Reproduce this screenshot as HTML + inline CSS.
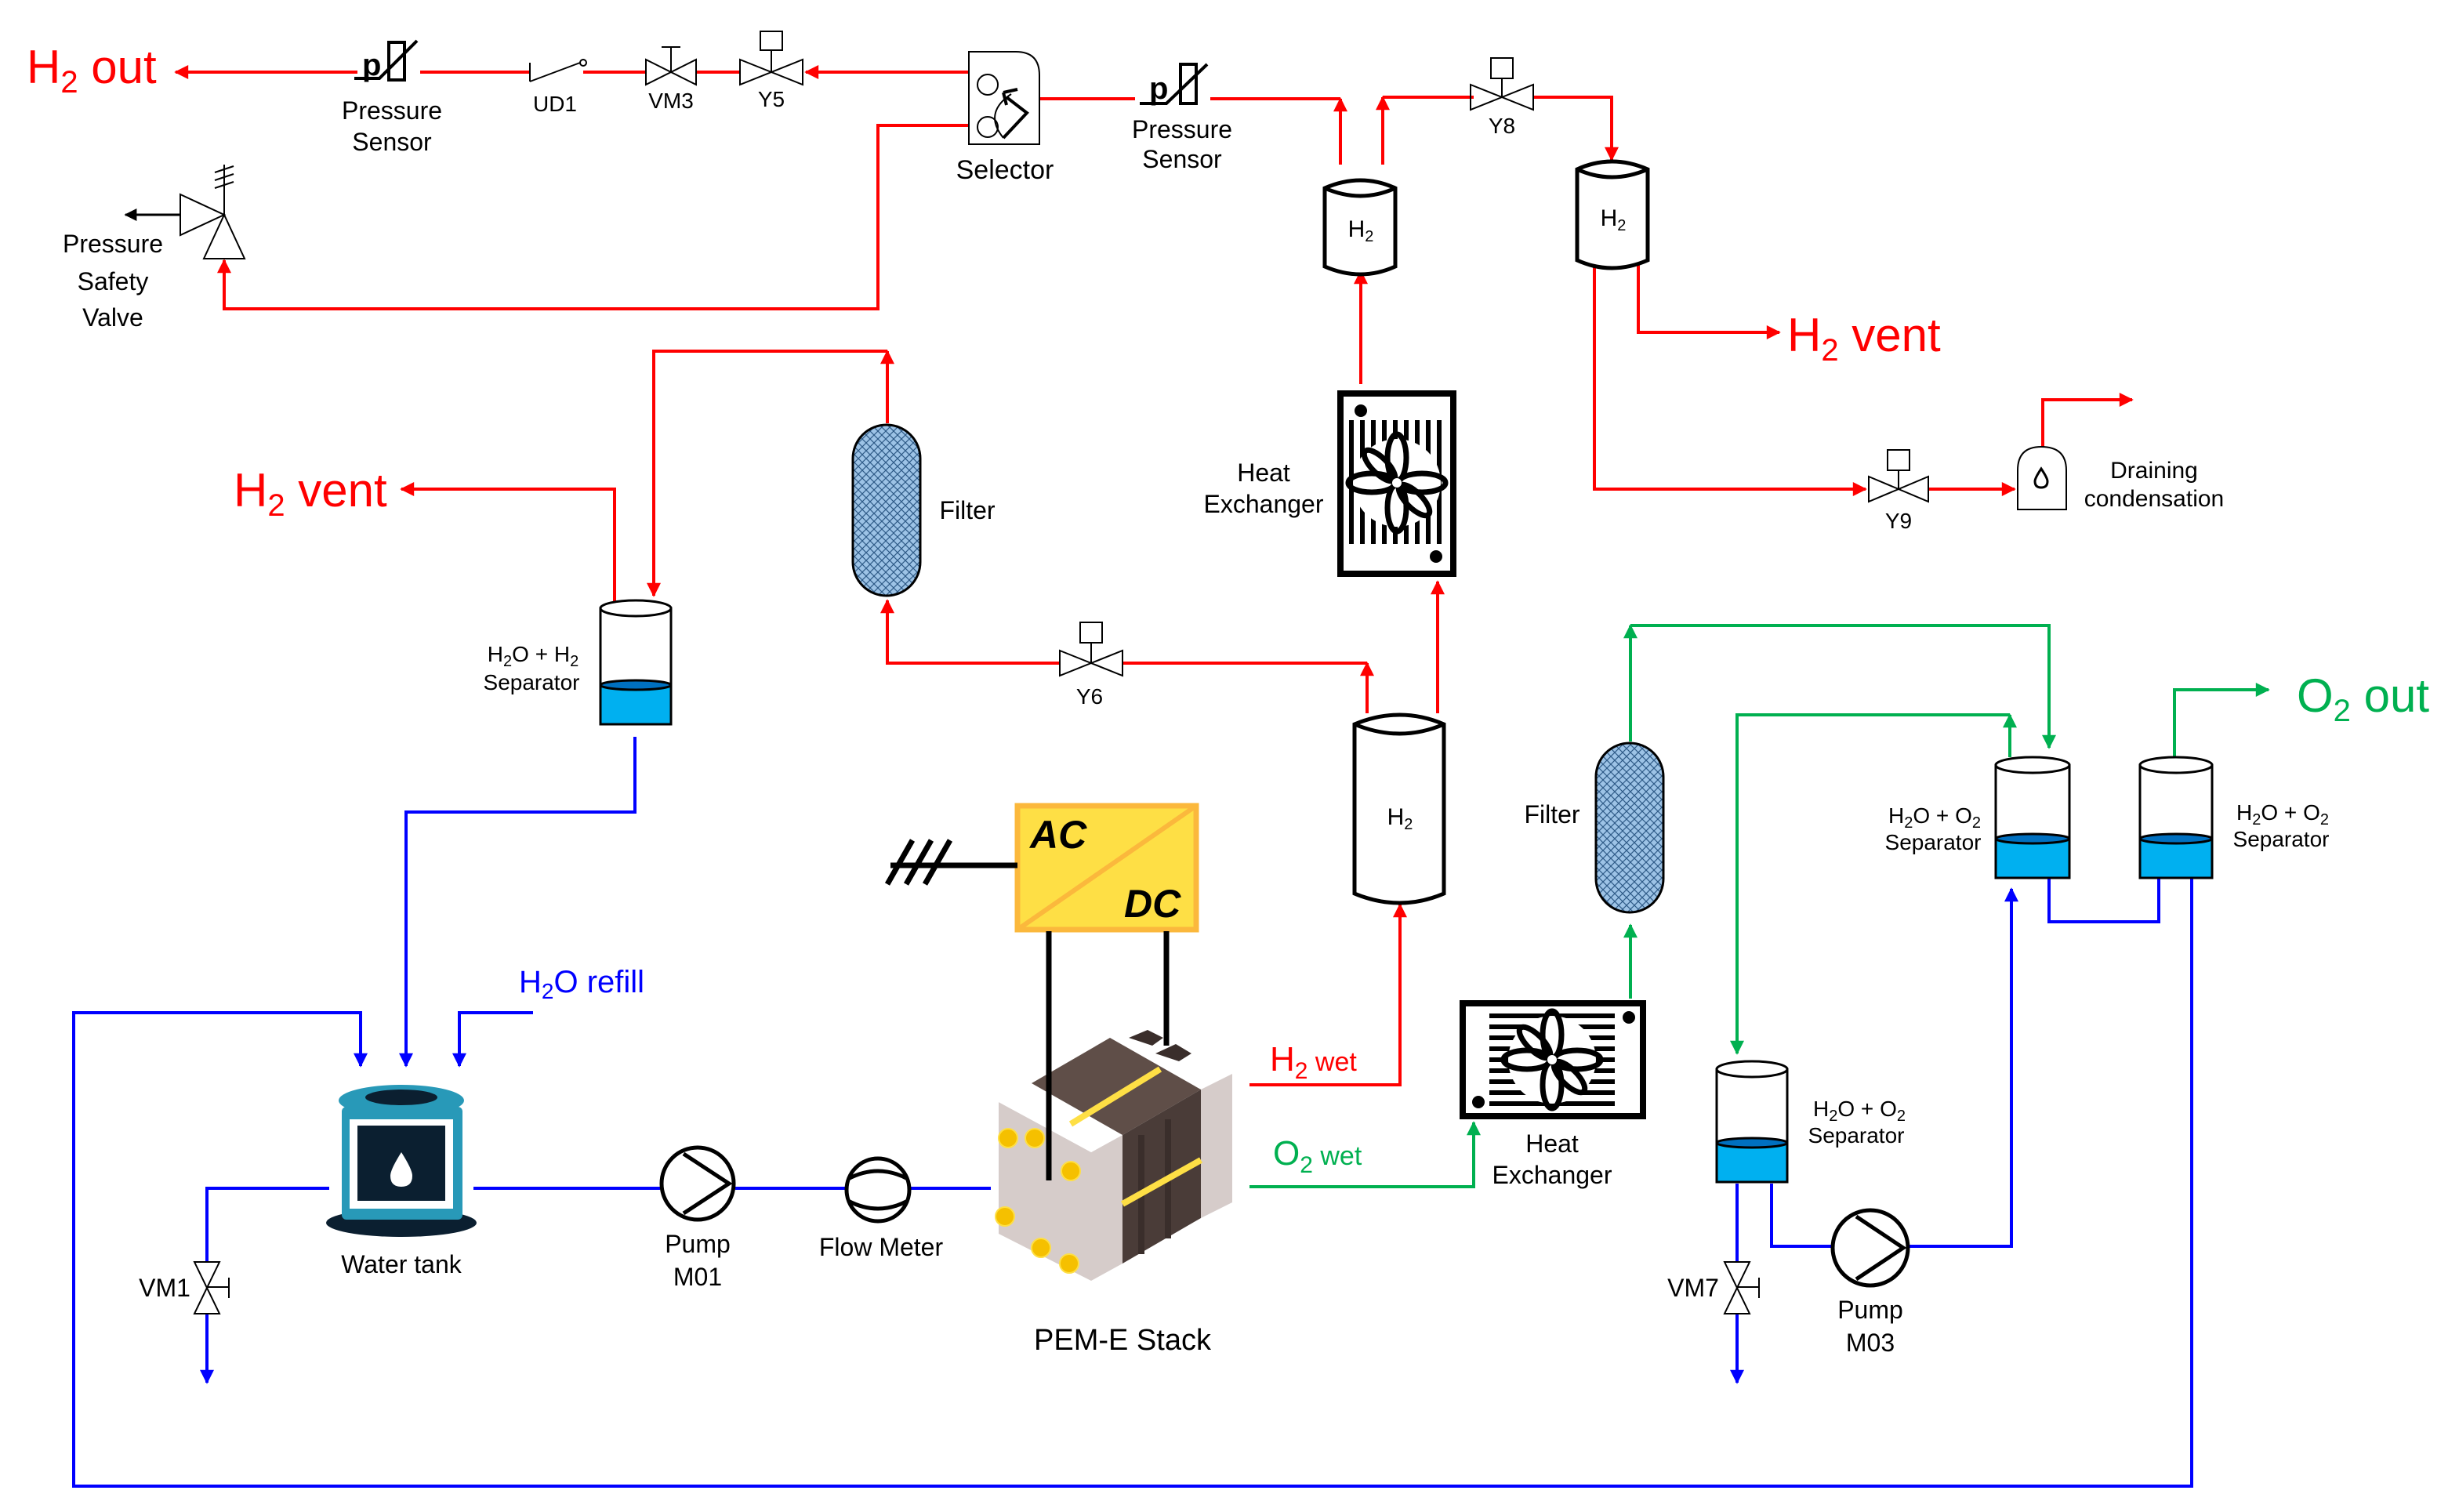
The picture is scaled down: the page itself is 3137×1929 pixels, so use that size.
<!DOCTYPE html>
<html><head><meta charset="utf-8"><style>
html,body{margin:0;padding:0;background:#fff;}
svg{display:block;}
text{font-family:"Liberation Sans","DejaVu Sans",sans-serif;}
</style></head><body>
<svg width="3137" height="1929" viewBox="0 0 1568.5 964.5" xmlns="http://www.w3.org/2000/svg">
<defs>
<marker id="ar" viewBox="0 0 10 10" refX="9" refY="5" markerWidth="10" markerHeight="9" orient="auto" markerUnits="userSpaceOnUse"><path d="M0,0 L10,5 L0,10 z" fill="#f00"/></marker>
<marker id="ag" viewBox="0 0 10 10" refX="9" refY="5" markerWidth="10" markerHeight="9" orient="auto" markerUnits="userSpaceOnUse"><path d="M0,0 L10,5 L0,10 z" fill="#00b050"/></marker>
<marker id="ab" viewBox="0 0 10 10" refX="9" refY="5" markerWidth="10" markerHeight="9" orient="auto" markerUnits="userSpaceOnUse"><path d="M0,0 L10,5 L0,10 z" fill="#00f"/></marker>
<marker id="ak" viewBox="0 0 10 10" refX="9" refY="5" markerWidth="9" markerHeight="8" orient="auto" markerUnits="userSpaceOnUse"><path d="M0,0 L10,5 L0,10 z" fill="#000"/></marker>
<pattern id="hatch" width="5" height="5" patternUnits="userSpaceOnUse"><rect width="5" height="5" fill="#9dc3e6"/><path d="M0,0 L5,5 M5,0 L0,5" stroke="#2e5a87" stroke-width="0.6"/></pattern>
</defs>

<g fill="none" stroke="#f00" stroke-width="2">
<path d="M618,46 L514,46" marker-end="url(#ar)"/>
<path d="M472,46 L444,46 M412,46 L372,46 M338,46 L268,46 M228,46 L112,46" />
<path d="M150,46 L112,46" marker-end="url(#ar)"/>
<path d="M662,63 L724,63 M772,63 L855,63"/>
<path d="M855,105 L855,63" marker-end="url(#ar)"/>
<path d="M882,105 L882,62" marker-end="url(#ar)"/>
<path d="M882,62 L940,62 M978,62 L1028,62 L1028,102" marker-end="url(#ar)"/>
<path d="M868,245 L868,173" marker-end="url(#ar)"/>
<path d="M917,455 L917,371" marker-end="url(#ar)"/>
<path d="M797,692 L893,692 L893,577" marker-end="url(#ar)"/>
<path d="M872,455 L872,423" marker-end="url(#ar)"/>
<path d="M797,423 L872,423 M797,423 L716,423 M676,423 L566,423 L566,383" marker-end="url(#ar)"/>
<path d="M566,270 L566,224" marker-end="url(#ar)"/>
<path d="M566,224 L417,224 L417,380" marker-end="url(#ar)"/>
<path d="M392,384 L392,312 L256,312" marker-end="url(#ar)"/>
<path d="M618,80 L560,80 L560,197 L143,197 L143,166" marker-end="url(#ar)"/>
<path d="M1045,166 L1045,212 L1135,212" marker-end="url(#ar)"/>
<path d="M1017,166 L1017,312 L1190,312" marker-end="url(#ar)"/>
<path d="M1230,312 L1285,312" marker-end="url(#ar)"/>
<path d="M1303,285 L1303,255 L1360,255" marker-end="url(#ar)"/>
</g>

<g fill="none" stroke="#00b050" stroke-width="2">
<path d="M797,757 L940,757 L940,716" marker-end="url(#ag)"/>
<path d="M1040,637 L1040,590" marker-end="url(#ag)"/>
<path d="M1040,473 L1040,399" marker-end="url(#ag)"/>
<path d="M1040,399 L1307,399 L1307,477" marker-end="url(#ag)"/>
<path d="M1282,483 L1282,456" marker-end="url(#ag)"/>
<path d="M1282,456 L1108,456 L1108,672" marker-end="url(#ag)"/>
<path d="M1387,483 L1387,440 L1447,440" marker-end="url(#ag)"/>
</g>

<g fill="none" stroke="#00f" stroke-width="2">
<path d="M405,470 L405,518 L259,518 L259,680" marker-end="url(#ab)"/>
<path d="M1398,560 L1398,948 L47,948 L47,646 L230,646 L230,680" marker-end="url(#ab)"/>
<path d="M340,646 L293,646 L293,680" marker-end="url(#ab)"/>
<path d="M210,758 L132,758 L132,805 M132,838 L132,882" marker-end="url(#ab)"/>
<path d="M302,758 L421,758 M469,758 L539,758 M581,758 L632,758"/>
<path d="M1108,755 L1108,805 M1108,838 L1108,882" marker-end="url(#ab)"/>
<path d="M1130,755 L1130,795 L1169,795 M1217,795 L1283,795 L1283,567" marker-end="url(#ab)"/>
<path d="M1307,560 L1307,588 L1377,588 L1377,560"/>
</g>

<text x="17" y="53" font-size="30" fill="#f00">H<tspan font-size="20" dy="6">2</tspan><tspan dy="-6"> out</tspan></text>
<text x="149" y="323" font-size="30" fill="#f00">H<tspan font-size="20" dy="6">2</tspan><tspan dy="-6"> vent</tspan></text>
<text x="1140" y="224" font-size="30" fill="#f00">H<tspan font-size="20" dy="6">2</tspan><tspan dy="-6"> vent</tspan></text>
<text x="1465" y="454" font-size="30" fill="#00b050">O<tspan font-size="20" dy="6">2</tspan><tspan dy="-6"> out</tspan></text>
<text x="810" y="683" font-size="22" fill="#f00">H<tspan font-size="15" dy="5">2</tspan><tspan dy="-5" font-size="17"> wet</tspan></text>
<text x="812" y="743" font-size="22" fill="#00b050">O<tspan font-size="15" dy="5">2</tspan><tspan dy="-5" font-size="17"> wet</tspan></text>
<text x="331" y="633" font-size="20" fill="#00f">H<tspan font-size="14" dy="4">2</tspan><tspan dy="-4">O refill</tspan></text>

<g font-size="16" fill="#000" text-anchor="middle">
<text x="250" y="76">Pressure</text><text x="250" y="96">Sensor</text>
<text x="354" y="71" font-size="14">UD1</text>
<text x="428" y="69" font-size="14">VM3</text>
<text x="492" y="68" font-size="14">Y5</text>
<text x="641" y="114" font-size="17">Selector</text>
<text x="754" y="88">Pressure</text><text x="754" y="107">Sensor</text>
<text x="958" y="85" font-size="14">Y8</text>
<text x="72" y="161">Pressure</text><text x="72" y="185">Safety</text><text x="72" y="208">Valve</text>
<text x="617" y="331">Filter</text>
<text x="806" y="307">Heat</text><text x="806" y="327">Exchanger</text>
<text x="695" y="449" font-size="14">Y6</text>
<text x="1211" y="337" font-size="14">Y9</text>
<text x="1374" y="305" font-size="15">Draining</text><text x="1374" y="323" font-size="15">condensation</text>
<text x="990" y="525">Filter</text>
<text x="990" y="735">Heat</text><text x="990" y="755">Exchanger</text>
<text x="256" y="812">Water tank</text>
<text x="445" y="799">Pump</text><text x="445" y="820">M01</text>
<text x="562" y="801">Flow Meter</text>
<text x="716" y="861" font-size="19">PEM-E Stack</text>
<text x="105" y="827">VM1</text>
<text x="1080" y="827">VM7</text>
<text x="1193" y="841">Pump</text><text x="1193" y="862">M03</text>
</g>
<g font-size="14" fill="#000" text-anchor="middle">
<text x="340" y="422">H<tspan font-size="10" dy="3">2</tspan><tspan dy="-3">O + H</tspan><tspan font-size="10" dy="3">2</tspan></text><text x="339" y="440">Separator</text>
<text x="1234" y="525">H<tspan font-size="10" dy="3">2</tspan><tspan dy="-3">O + O</tspan><tspan font-size="10" dy="3">2</tspan></text><text x="1233" y="542">Separator</text>
<text x="1456" y="523">H<tspan font-size="10" dy="3">2</tspan><tspan dy="-3">O + O</tspan><tspan font-size="10" dy="3">2</tspan></text><text x="1455" y="540">Separator</text>
<text x="1186" y="712">H<tspan font-size="10" dy="3">2</tspan><tspan dy="-3">O + O</tspan><tspan font-size="10" dy="3">2</tspan></text><text x="1184" y="729">Separator</text>
</g>

<g stroke="#000" fill="none">
<path d="M226,50 L242,50 L266,26" stroke-width="2"/>
<rect x="248" y="27" width="10" height="24" stroke-width="2"/>
<text x="231" y="48" font-size="20" font-weight="bold" fill="#000" stroke="none">p</text>
<path d="M727,66 L744,66 L770,41" stroke-width="2"/>
<rect x="753" y="41" width="10" height="25" stroke-width="2"/>
<text x="733" y="63" font-size="20" font-weight="bold" fill="#000" stroke="none">p</text>
</g>

<g stroke="#000" stroke-width="1" fill="none">
<path d="M338,52 L338,40 M338,52 L370,40"/><circle cx="372" cy="40" r="2"/>
<path d="M412,38 L444,54 L444,38 L412,54 Z"/><path d="M428,46 L428,30 M422,30 L434,30"/>
<path d="M472,38 L512,54 L512,38 L472,54 Z"/><path d="M492,46 L492,32"/><rect x="485" y="20" width="14" height="12"/>
<path d="M938,54 L978,70 L978,54 L938,70 Z"/><path d="M958,62 L958,50"/><rect x="951" y="37" width="14" height="13"/>
<path d="M676,415 L716,431 L716,415 L676,431 Z"/><path d="M696,423 L696,410"/><rect x="689" y="397" width="14" height="13"/>
<path d="M1192,304 L1230,320 L1230,304 L1192,320 Z"/><path d="M1211,312 L1211,300"/><rect x="1204" y="287" width="14" height="13"/>
<path d="M124,805 L140,838 L124,838 L140,805 Z"/><path d="M132,821 L146,821 M146,815 L146,828"/>
<path d="M1100,805 L1116,838 L1100,838 L1116,805 Z"/><path d="M1108,821 L1122,821 M1122,815 L1122,828"/>
<path d="M115,124 L143,137 L115,150 Z"/><path d="M130,165 L143,137 L156,165 Z"/><path d="M143,137 L143,105 M137,110 L149,106 M137,115 L149,111 M137,120 L149,116"/>
</g>
<path d="M115,137 L80,137" stroke="#000" stroke-width="1.5" marker-end="url(#ak)"/>

<g stroke="#000" fill="none" stroke-width="1">
<path d="M618,33 L648,33 Q663,33 663,48 L663,92 L618,92 Z" fill="#fff"/>
<circle cx="630" cy="54" r="6.5"/><circle cx="630" cy="81" r="6.5"/>
<path d="M640,88 L655,72 L642,62" stroke-width="2"/><path d="M640,59 L642,67 M640,59 L649,57" stroke-width="2"/>
<path d="M645,60 Q627,72 640,88"/>
</g>

<path d="M1287,325 L1287,300 Q1287,285 1302,285 Q1318,285 1318,300 L1318,325 Z" fill="#fff" stroke="#000" stroke-width="1"/>
<path d="M1302,299 Q1298,305 1298,307 Q1298,311 1302,311 Q1306,311 1306,307 Q1306,305 1302,299 Z" fill="none" stroke="#000" stroke-width="1.5"/>

<g stroke="#000" stroke-width="2.5" fill="#fff">
<path d="M845,120 Q868,110 890,120 L890,170 Q868,180 845,170 Z"/><path d="M845,120 Q868,130 890,120" fill="none"/>
<path d="M1006,108 Q1028,98 1051,108 L1051,166 Q1028,176 1006,166 Z"/><path d="M1006,108 Q1028,118 1051,108" fill="none"/>
<path d="M864,462 Q893,450 921,462 L921,570 Q893,582 864,570 Z"/><path d="M864,462 Q893,474 921,462" fill="none"/>
</g>
<text x="868" y="151" font-size="15" text-anchor="middle">H<tspan font-size="10" dy="3">2</tspan></text>
<text x="1029" y="144" font-size="15" text-anchor="middle">H<tspan font-size="10" dy="3">2</tspan></text>
<text x="893" y="526" font-size="15" text-anchor="middle">H<tspan font-size="10" dy="3">2</tspan></text>

<g stroke="#000" stroke-width="1.5">
<rect x="383" y="388" width="45" height="74" fill="#fff"/><rect x="383" y="437" width="45" height="25" fill="#00b0f0"/><ellipse cx="405.5" cy="437" rx="22.5" ry="3" fill="#0070c0"/><ellipse cx="405.5" cy="388" rx="22.5" ry="5" fill="#fff"/>
<rect x="1273" y="488" width="47" height="72" fill="#fff"/><rect x="1273" y="535" width="47" height="25" fill="#00b0f0"/><ellipse cx="1296.5" cy="535" rx="23.5" ry="3" fill="#0070c0"/><ellipse cx="1296.5" cy="488" rx="23.5" ry="5" fill="#fff"/>
<rect x="1365" y="488" width="46" height="72" fill="#fff"/><rect x="1365" y="535" width="46" height="25" fill="#00b0f0"/><ellipse cx="1388" cy="535" rx="23" ry="3" fill="#0070c0"/><ellipse cx="1388" cy="488" rx="23" ry="5" fill="#fff"/>
<rect x="1095" y="682" width="45" height="72" fill="#fff"/><rect x="1095" y="729" width="45" height="25" fill="#00b0f0"/><ellipse cx="1117.5" cy="729" rx="22.5" ry="3" fill="#0070c0"/><ellipse cx="1117.5" cy="682" rx="22.5" ry="5" fill="#fff"/>
</g>

<rect x="544" y="271" width="43" height="109" rx="21.5" fill="url(#hatch)" stroke="#000" stroke-width="1.5"/>
<rect x="1018" y="474" width="43" height="108" rx="21.5" fill="url(#hatch)" stroke="#000" stroke-width="1.5"/>

<g>
<rect x="855" y="251" width="72" height="115" fill="#fff" stroke="#000" stroke-width="4"/>
<circle cx="868" cy="262" r="4"/><circle cx="916" cy="355" r="4"/>
<g stroke="#000" stroke-width="3">
<path d="M862,268 V347 M869,268 V347 M876,268 V347 M883,268 V347 M890,268 V347 M897,268 V347 M904,268 V347 M911,268 V347 M918,268 V347"/>
</g>
<circle cx="891" cy="308" r="28" fill="#fff"/>
<g fill="none" stroke="#000" stroke-width="3.5">
<ellipse cx="891" cy="292" rx="6" ry="15"/><ellipse cx="891" cy="324" rx="6" ry="15"/>
<ellipse cx="875" cy="308" rx="15" ry="6"/><ellipse cx="907" cy="308" rx="15" ry="6"/>
<ellipse cx="880" cy="297" rx="5" ry="13" transform="rotate(-45 880 297)"/><ellipse cx="902" cy="319" rx="5" ry="13" transform="rotate(-45 902 319)"/>
</g>
<circle cx="891" cy="308" r="3" fill="#fff"/>
</g>

<g>
<rect x="933" y="640" width="115" height="72" fill="#fff" stroke="#000" stroke-width="4"/>
<circle cx="943" cy="703" r="4"/><circle cx="1039" cy="649" r="4"/>
<g stroke="#000" stroke-width="3">
<path d="M950,648 H1030 M950,655 H1030 M950,662 H1030 M950,669 H1030 M950,676 H1030 M950,683 H1030 M950,690 H1030 M950,697 H1030 M950,704 H1030"/>
</g>
<circle cx="990" cy="676" r="28" fill="#fff"/>
<g fill="none" stroke="#000" stroke-width="3.5">
<ellipse cx="990" cy="660" rx="6" ry="15"/><ellipse cx="990" cy="692" rx="6" ry="15"/>
<ellipse cx="974" cy="676" rx="15" ry="6"/><ellipse cx="1006" cy="676" rx="15" ry="6"/>
<ellipse cx="979" cy="665" rx="5" ry="13" transform="rotate(-45 979 665)"/><ellipse cx="1001" cy="687" rx="5" ry="13" transform="rotate(-45 1001 687)"/>
</g>
<circle cx="990" cy="676" r="3" fill="#fff"/>
</g>

<g stroke="#000" stroke-width="2.5" fill="#fff">
<circle cx="445" cy="755" r="23"/><path d="M436,736 L465,755 L436,774" fill="none"/>
<circle cx="560" cy="759" r="20"/><path d="M541,752 Q560,742 579,752 M541,766 Q560,776 579,766" fill="none"/>
<circle cx="1193" cy="796" r="24"/><path d="M1184,776 L1214,796 L1184,816" fill="none"/>
</g>

<g>
<ellipse cx="256" cy="780" rx="48" ry="9" fill="#0b1f30"/>
<rect x="218" y="706" width="77" height="72" rx="3" fill="#2899b8"/>
<ellipse cx="256" cy="702" rx="40" ry="10" fill="#2899b8"/>
<ellipse cx="256" cy="700" rx="23" ry="5" fill="#0b1f30"/>
<rect x="223" y="714" width="66" height="57" fill="#fff"/>
<rect x="228" y="718" width="56" height="48" fill="#0b1f30"/>
<path d="M256,735 Q249,746 249,750 Q249,757 256,757 Q263,757 263,750 Q263,746 256,735 Z" fill="#fff"/>
</g>

<g>
<rect x="649" y="514" width="114" height="79" fill="#fedf45" stroke="#fbb83c" stroke-width="3.5"/>
<path d="M649,593 L763,514" stroke="#fbb83c" stroke-width="3"/>
<text x="657" y="541" font-size="25" font-weight="bold" font-style="italic">AC</text>
<text x="717" y="585" font-size="25" font-weight="bold" font-style="italic">DC</text>
<path d="M568,552 L649,552 M566,564 L582,536 M578,564 L594,536 M590,564 L606,536" stroke="#000" stroke-width="3.5"/>
</g>

<g>
<path d="M766,695 L786,685 L786,767 L766,777 Z" fill="#d6ccca"/>
<path d="M637,703 L696,735 L716,724 L716,806 L696,817 L637,787 Z" fill="#d6ccca"/>
<path d="M658,691 L716,724 L696,735 L637,703 Z" fill="#fff"/>
<path d="M658,691 L708,662 L766,695 L716,724 Z" fill="#5f4e48"/>
<path d="M716,724 L766,695 L766,777 L716,806 Z" fill="#4a3c38"/>
<path d="M728,724 V800 M745,714 V790" stroke="#3a2e2b" stroke-width="4"/>
<path d="M720,662 L732,657 L742,662 L735,667 Z M737,672 L750,666 L760,672 L752,677 Z" fill="#3a2e2b"/>
<path d="M683,717 L740,682" stroke="#fedf45" stroke-width="4"/>
<path d="M716,768 L766,740" stroke="#fedf45" stroke-width="4"/>
<g fill="#f5c000" stroke="#fedf45" stroke-width="1">
<circle cx="643" cy="726" r="6"/><circle cx="660" cy="726" r="6"/><circle cx="683" cy="747" r="6"/>
<circle cx="641" cy="776" r="6"/><circle cx="664" cy="796" r="6"/><circle cx="682" cy="806" r="6"/>
</g>
<path d="M669,594 L669,753 M744,594 L744,667" stroke="#000" stroke-width="3.5"/>
</g>
</svg>
</body></html>
